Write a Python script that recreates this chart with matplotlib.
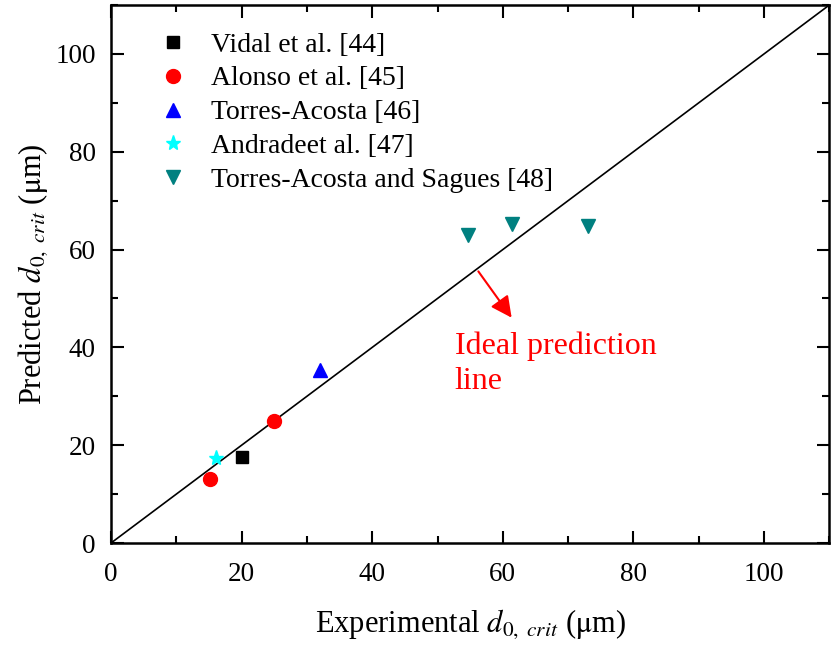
import matplotlib.pyplot as plt
from matplotlib.ticker import MultipleLocator

plt.rcParams['font.family'] = ['Liberation Serif', 'DejaVu Serif']
plt.rcParams['mathtext.fontset'] = 'stix'

# experimental vs predicted d0,crit (um)
vidal_x = [20]
vidal_y = [17.5]
alonso_x = [15.1, 24.9]
alonso_y = [13.0, 24.9]
torres_x = [32.0]
torres_y = [35.4]
andrade_x = [16.0]
andrade_y = [17.4]
sagues_x = [54.6, 61.4, 73.0]
sagues_y = [63.0, 65.2, 64.8]

fig = plt.figure(figsize=(8.31, 6.5), dpi=100)
ax = fig.add_axes([0.1336, 0.1646, 0.8644, 0.8277])

ax.plot([0, 110], [0, 110], color='black', lw=1.2, zorder=1)

ms = 9
ax.plot(vidal_x, vidal_y, 's', color='black', ms=ms, ls='none', label='Vidal et al. [44]')
ax.plot(alonso_x, alonso_y, 'o', color='red', ms=ms + 1, ls='none', label='Alonso et al. [45]')
ax.plot(torres_x, torres_y, '^', color='blue', ms=ms + 1, ls='none', label='Torres-Acosta [46]')
ax.plot(andrade_x, andrade_y, '*', color='cyan', ms=ms + 2, ls='none', label='Andradeet al. [47]')
ax.plot(sagues_x, sagues_y, 'v', color='#008080', ms=ms + 1, ls='none',
        label='Torres-Acosta and Sagues [48]')

ax.annotate('', xy=(61.6, 45.6), xytext=(56.0, 56.0),
            arrowprops=dict(arrowstyle='-|>', color='red', lw=1.5, mutation_scale=32))
ax.text(52.6, 43.2, 'Ideal prediction\nline', color='red', fontsize=23,
        va='top', ha='left', linespacing=1.25)

ax.set_xlim(0, 110)
ax.set_ylim(0, 110)
ax.xaxis.set_major_locator(MultipleLocator(20))
ax.xaxis.set_minor_locator(MultipleLocator(10))
ax.yaxis.set_major_locator(MultipleLocator(20))
ax.yaxis.set_minor_locator(MultipleLocator(10))
ax.tick_params(which='both', direction='in', top=True, right=True, width=1.5, labelsize=19.5)
ax.tick_params(axis='x', which='major', length=9, pad=14)
ax.tick_params(axis='y', which='major', length=9, pad=11)
ax.tick_params(which='minor', length=5)
for s in ax.spines.values():
    s.set_linewidth(1.8)

ax.set_xlabel(r'Experimental $d_{0,\ crit}$ ($\mathrm{\mu}$m)', fontsize=22, labelpad=14)
ax.set_ylabel(r'Predicted $d_{0,\ crit}$ ($\mathrm{\mu}$m)', fontsize=22, labelpad=4)

ax.legend(loc='upper left', bbox_to_anchor=(0.047, 0.97), frameon=False, fontsize=20,
          handlelength=1.2, handletextpad=0.8, labelspacing=0.3, borderaxespad=0)

fig.savefig('out.png', dpi=100)
